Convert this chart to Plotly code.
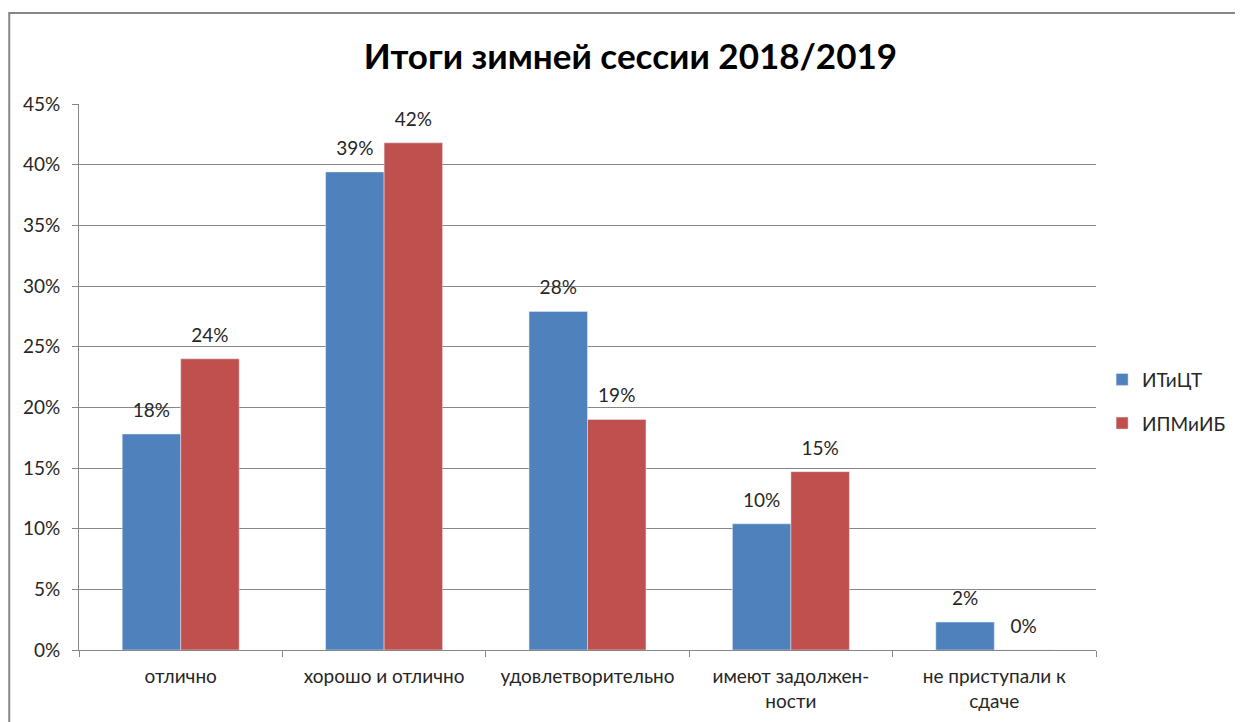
import plotly.graph_objects as go

categories = ['отлично', 'хорошо и отлично', 'удовлетворительно',
              'имеют задолжен-<br>ности', 'не приступали к<br>сдаче']
itict = [0.178, 0.394, 0.279, 0.104, 0.023]
ipmiib = [0.240, 0.418, 0.190, 0.147, 0.0]

font = 'Lato, "Open Sans", sans-serif'
grey = '#878787'

fig = go.Figure()
for name, vals, color, grp in [('ИТиЦТ', itict, '#4F81BD', 'a'),
                               ('ИПМиИБ', ipmiib, '#C0504D', 'b')]:
    fig.add_trace(go.Bar(name=name, x=categories, y=vals, marker_color=color,
                         legendgroup=grp))
# value labels: invisible markers + text, grouped like the bars, a little above them
for vals in [itict, ipmiib]:
    fig.add_trace(go.Scatter(x=categories, y=vals, mode='markers+text',
                             texttemplate='%{y:.0%}', textposition='top center',
                             marker=dict(size=18, color='rgba(0,0,0,0)'),
                             textfont=dict(size=19, color='#262626'),
                             showlegend=False, cliponaxis=False, hoverinfo='skip'))

# page body has an 8px margin, so the figure is 8px smaller than the window
fig.update_layout(
    width=1235, height=714,
    margin=dict(l=71, r=144, t=96, b=72),
    paper_bgcolor='white', plot_bgcolor='white',
    font=dict(family=font, size=19, color='#262626'),
    title=dict(text='<b>Итоги зимней сессии 2018/2019</b>', x=0.504, xanchor='center',
               y=0.932, yanchor='middle', font=dict(size=35, color='black')),
    barmode='group', bargap=0.425, bargroupgap=0,
    scattermode='group', scattergap=0.425,
    legend=dict(x=1.006, y=0.455, xanchor='left', yanchor='middle',
                font=dict(size=19), traceorder='grouped', tracegroupgap=16,
                itemwidth=30),
    showlegend=True,
)

fig.update_yaxes(range=[0, 0.45], dtick=0.05, tickformat='.0%', showgrid=True,
                 gridcolor=grey, gridwidth=1, showline=True, linecolor=grey,
                 ticks='outside', ticklen=6, tickcolor=grey, zeroline=False,
                 tickfont=dict(size=19), ticklabelstandoff=8, automargin=False)
fig.update_xaxes(showline=True, linecolor=grey, ticks='outside', tickson='boundaries',
                 ticklen=6, tickcolor=grey, tickfont=dict(size=19), tickangle=0,
                 ticklabelstandoff=9, automargin=False)

# outer chart frame
fig.add_shape(type='rect', xref='paper', yref='paper', x0=-0.0686, x1=1.3,
              y0=-0.3, y1=1.1667, line=dict(color=grey, width=2), layer='below')

fig.write_html('out.html')
